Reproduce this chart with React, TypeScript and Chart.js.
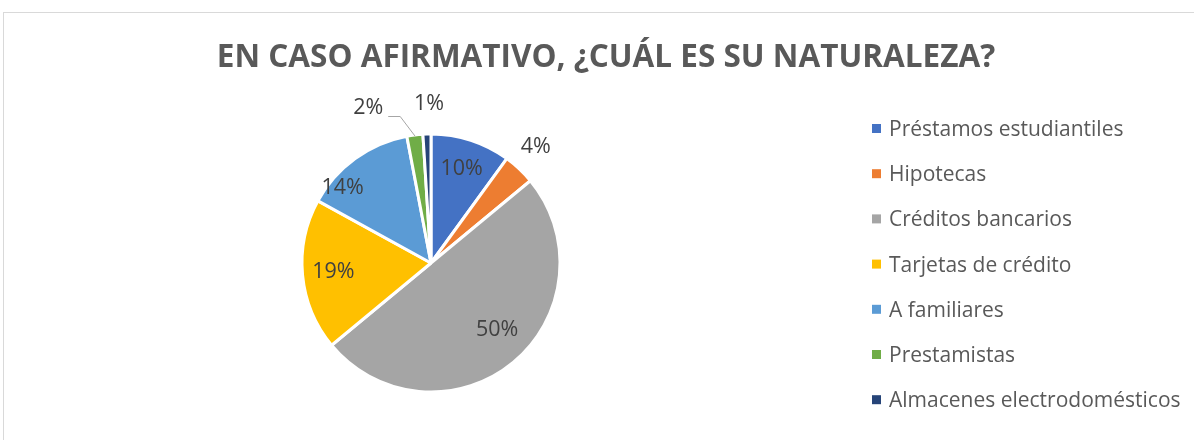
import React, { useEffect, useRef } from "react";
import { Chart, registerables } from "chart.js";

Chart.register(...registerables);

const TITLE = "EN CASO AFIRMATIVO, ¿CUÁL ES SU NATURALEZA?";
const categories = [
  "Préstamos estudiantiles",
  "Hipotecas",
  "Créditos bancarios",
  "Tarjetas de crédito",
  "A familiares",
  "Prestamistas",
  "Almacenes electrodomésticos",
];
const values = [10, 4, 50, 19, 14, 2, 1];
const valueLabels = ["10%", "4%", "50%", "19%", "14%", "2%", "1%"];
const colors = ["#4472C4", "#ED7D31", "#A5A5A5", "#FFC000", "#5B9BD5", "#70AD47", "#264478"];
// label placement relative to each slice (radius factor, angle shift in degrees)
const labelRadius = [0.77, 1.21, 0.73, 0.76, 0.9, 1.3, 1.23];
const labelAngleShift = [0, -1, -5, 0, -13.6, -14.8, 1.1];
const leaderLines = [false, false, false, false, false, true, false];

const FONT = "'Open Sans', Lato, sans-serif";
const TEXT_COLOR = "#595959";
const LABEL_COLOR = "#404040";

const framePlugin = {
  id: "frame",
  beforeDraw(chart: any) {
    const ctx = chart.ctx;
    ctx.save();
    ctx.fillStyle = "#FFFFFF";
    ctx.fillRect(0, 0, chart.width, chart.height);
    ctx.strokeStyle = "#D9D9D9";
    ctx.lineWidth = 1;
    ctx.strokeRect(3.5, 12.5, chart.width + 100, chart.height + 100);
    ctx.restore();
  },
};

const titlePlugin = {
  id: "customTitle",
  afterDraw(chart: any) {
    const ctx = chart.ctx;
    ctx.save();
    ctx.font = `bold 31.5px ${FONT}`;
    ctx.fillStyle = TEXT_COLOR;
    ctx.textAlign = "center";
    ctx.textBaseline = "alphabetic";
    ctx.fillText(TITLE, 606, 67);
    ctx.restore();
  },
};

const legendPlugin = {
  id: "customLegend",
  afterDraw(chart: any) {
    const ctx = chart.ctx;
    const labels = chart.data.labels as string[];
    const bg = chart.data.datasets[0].backgroundColor as string[];
    ctx.save();
    ctx.font = `21px ${FONT}`;
    ctx.textAlign = "left";
    ctx.textBaseline = "alphabetic";
    labels.forEach((lab, i) => {
      const y = 128.5 + i * 45.2;
      ctx.fillStyle = bg[i];
      ctx.fillRect(872, y - 4.5, 9, 9);
      ctx.fillStyle = TEXT_COLOR;
      ctx.fillText(lab, 889, y + 7.5);
    });
    ctx.restore();
  },
};

const dataLabelPlugin = {
  id: "pieLabels",
  afterDatasetsDraw(chart: any) {
    const ctx = chart.ctx;
    const meta = chart.getDatasetMeta(0);
    ctx.save();
    ctx.font = `21.5px ${FONT}`;
    ctx.textAlign = "center";
    ctx.textBaseline = "middle";
    meta.data.forEach((arc: any, i: number) => {
      const p = arc.getProps(["x", "y", "startAngle", "endAngle", "outerRadius"], true);
      const mid = (p.startAngle + p.endAngle) / 2;
      const ang = mid + (labelAngleShift[i] * Math.PI) / 180;
      const r = p.outerRadius * labelRadius[i];
      const lx = p.x + Math.cos(ang) * r;
      const ly = p.y + Math.sin(ang) * r;
      if (leaderLines[i]) {
        const w = ctx.measureText(valueLabels[i]).width;
        const ax = p.x + Math.cos(mid) * (p.outerRadius - 1);
        const ay = p.y + Math.sin(mid) * (p.outerRadius - 1);
        ctx.strokeStyle = "#A6A6A6";
        ctx.lineWidth = 1;
        ctx.beginPath();
        ctx.moveTo(ax, ay);
        ctx.lineTo(lx + w / 2 + 17, ly + 9);
        ctx.lineTo(lx + w / 2 + 5, ly + 9);
        ctx.stroke();
      }
      ctx.fillStyle = LABEL_COLOR;
      ctx.fillText(valueLabels[i], lx, ly);
    });
    ctx.restore();
  },
};

export default function App() {
  const ref = useRef<HTMLCanvasElement | null>(null);
  useEffect(() => {
    if (!ref.current) return;
    const chart = new Chart(ref.current, {
      type: "pie",
      data: {
        labels: categories,
        datasets: [
          {
            data: values,
            backgroundColor: colors,
            borderColor: "#FFFFFF",
            borderWidth: 3,
            radius: 129,
          } as any,
        ],
      },
      options: {
        responsive: false,
        animation: false,
        layout: { padding: { left: 18, right: 350, top: 86, bottom: 0 } },
        plugins: {
          legend: { display: false },
          title: { display: false },
          tooltip: { enabled: false },
        },
      },
      plugins: [framePlugin, dataLabelPlugin, titlePlugin, legendPlugin],
    });
    return () => chart.destroy();
  }, []);
  return (
    <div style={{ position: "absolute", left: 0, top: 0, width: 1194, height: 440 }}>
      <canvas ref={ref} width={1194} height={440} style={{ display: "block" }} />
    </div>
  );
}
